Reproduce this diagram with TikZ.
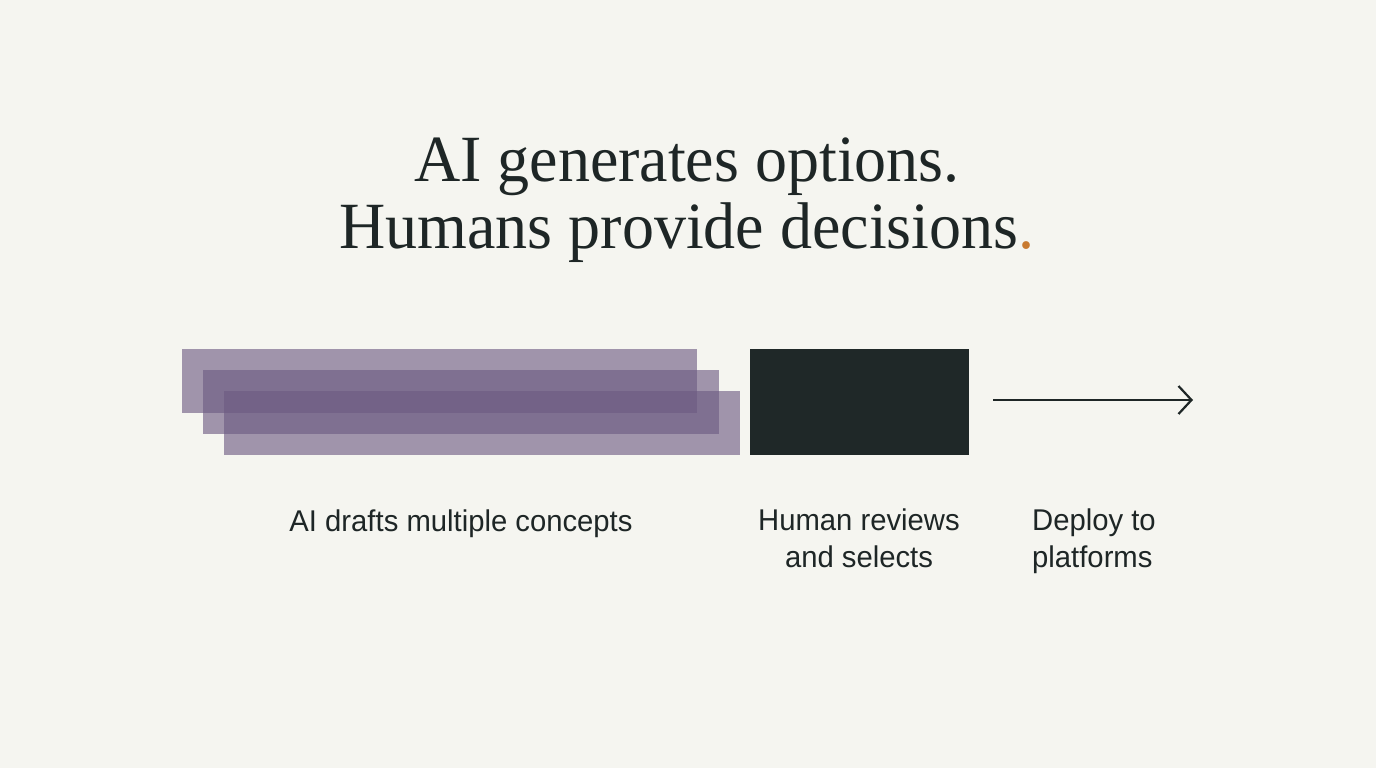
\documentclass[tikz,border=0pt]{standalone}
\usepackage{fontspec}
\usetikzlibrary{arrows.meta}
\setmainfont{Liberation Serif}
\newfontfamily\titlefont[FakeStretch=0.97]{Liberation Serif}
\newfontfamily\lblfont[FakeStretch=0.975]{Liberation Sans}
\definecolor{bg}{HTML}{F5F5F0}
\definecolor{ink}{HTML}{1E2626}
\definecolor{darkbox}{HTML}{1F2828}
\definecolor{plum}{HTML}{6C5A82}
\definecolor{accent}{HTML}{C87A30}
\tikzset{
  draft/.style={fill=plum, fill opacity=0.62, draw=none},
  title/.style={font=\titlefont\fontsize{66}{66}\selectfont, text=ink, inner sep=0pt, anchor=base},
  lbl/.style={font=\lblfont\fontsize{30}{37}\selectfont, text=ink, inner sep=0pt, anchor=base},
}
\begin{document}
\begin{tikzpicture}[x=1pt,y=-1pt]
\fill[bg] (0,0) rectangle (1376,768);
\useasboundingbox (0,0) rectangle (1376,768);
\node[title] (t1) at (687,181) {AI generates options.};
\node[title] (t2) at (687,248) {Humans provide decisions\textcolor{accent}{.}};
\path[draft] (182,349) rectangle (697,413);
\path[draft] (203,370) rectangle (719,434);
\path[draft] (224,391) rectangle (740,455);
\node[fill=darkbox, minimum width=219pt, minimum height=106pt, inner sep=0pt, anchor=north west] (human) at (750,349) {};
\coordinate (as) at (993,400);
\coordinate (ae) at (1193,400);
\draw[ink, line width=2.2pt, -{Straight Barb[length=13pt,width=28pt,line width=2.2pt]}] (as) -- (ae);
\node[lbl] (l1) at (461,531) {AI drafts multiple concepts};
\node[lbl, align=center, anchor=north] (l2) at (859,509) {Human reviews\\and selects};
\node[lbl, align=left, anchor=north west] (l3) at (1032,509) {Deploy to\\platforms};
\end{tikzpicture}
\end{document}
